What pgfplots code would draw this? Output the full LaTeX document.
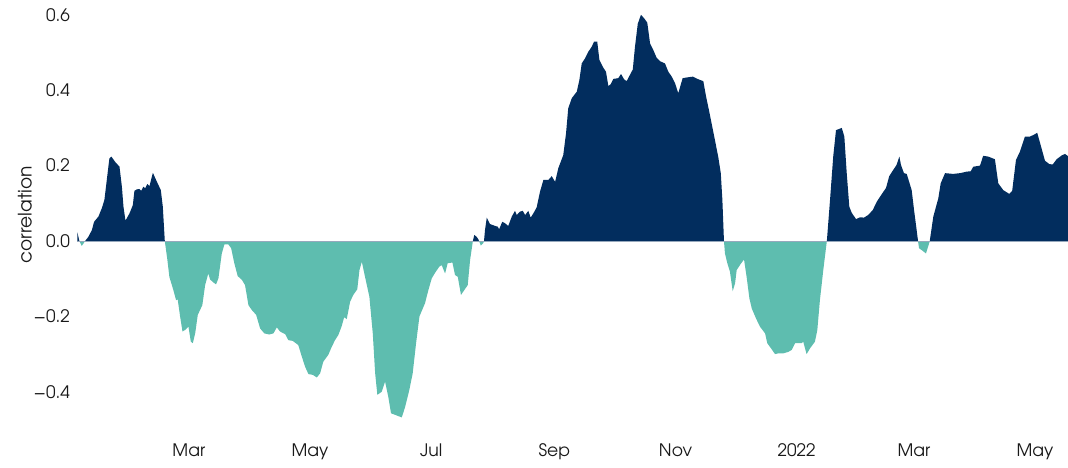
\documentclass[border=0pt]{standalone}
\usepackage{fontspec}
\setmainfont{TeX Gyre Adventor}
\usepackage{pgfplots}
\pgfplotsset{compat=1.18}
\usepackage{pgfplotstable}
\definecolor{posnavy}{RGB}{2,45,94}
\definecolor{negteal}{RGB}{94,189,175}
\definecolor{zeroln}{RGB}{150,168,188}
\definecolor{txt}{RGB}{25,25,25}

% x = days since 1 Jan 2021, y = rolling correlation
\pgfplotstableread{
d v
2.9 0.023
3.9 0.000
5.1 -0.013
6.8 0.000
8.4 0.011
10.2 0.029
11.3 0.051
13.5 0.065
15.2 0.087
16.5 0.109
17.7 0.162
19.0 0.219
20.0 0.224
21.9 0.210
24.1 0.197
25.3 0.144
26.1 0.091
27.1 0.054
29.1 0.073
30.8 0.095
31.6 0.133
32.8 0.137
34.1 0.138
35.0 0.133
36.1 0.144
37.0 0.140
38.1 0.151
39.2 0.146
40.9 0.181
42.5 0.162
44.9 0.135
45.9 0.091
46.9 0.000
48.2 -0.050
49.2 -0.095
51.2 -0.130
52.6 -0.157
53.4 -0.155
54.6 -0.200
55.8 -0.240
57.1 -0.236
58.8 -0.227
60.0 -0.267
61.0 -0.271
62.2 -0.245
63.5 -0.196
65.8 -0.170
67.2 -0.117
68.8 -0.086
69.7 -0.102
71.4 -0.110
72.7 -0.115
73.9 -0.099
75.6 -0.033
76.9 -0.009
78.9 -0.009
80.3 -0.019
81.9 -0.059
83.6 -0.093
85.7 -0.103
87.3 -0.117
89.0 -0.170
90.7 -0.183
92.9 -0.196
94.9 -0.232
97.0 -0.245
99.4 -0.248
101.6 -0.245
103.3 -0.229
104.9 -0.240
107.5 -0.247
109.1 -0.263
111.3 -0.265
114.1 -0.276
115.9 -0.307
117.5 -0.333
119.2 -0.353
121.4 -0.355
123.4 -0.362
125.1 -0.351
126.7 -0.320
129.2 -0.302
131.0 -0.280
132.6 -0.263
134.3 -0.249
136.0 -0.225
137.2 -0.202
138.5 -0.207
140.2 -0.161
141.8 -0.143
143.8 -0.128
144.9 -0.077
146.1 -0.055
147.7 -0.095
149.9 -0.148
151.6 -0.245
152.8 -0.351
153.9 -0.408
156.1 -0.400
157.8 -0.373
159.4 -0.413
160.8 -0.457
163.3 -0.462
166.2 -0.468
167.9 -0.440
170.0 -0.395
171.7 -0.351
173.4 -0.271
175.1 -0.200
177.9 -0.165
179.6 -0.130
181.3 -0.099
183.0 -0.084
185.1 -0.068
186.3 -0.064
188.0 -0.086
189.3 -0.059
191.7 -0.057
193.0 -0.090
194.4 -0.095
196.0 -0.143
197.7 -0.130
199.4 -0.117
200.6 -0.050
201.7 -0.011
202.0 0.000
202.7 0.016
203.9 0.011
204.7 0.005
205.1 0.000
206.0 -0.012
207.3 -0.005
207.6 0.000
208.1 0.029
209.0 0.062
210.6 0.045
213.2 0.040
214.5 0.038
215.2 0.031
216.8 0.051
218.2 0.047
219.8 0.040
221.6 0.065
223.2 0.080
224.1 0.069
225.7 0.078
227.1 0.080
228.3 0.069
229.9 0.080
231.1 0.062
232.4 0.073
234.1 0.089
235.8 0.131
237.5 0.162
240.0 0.162
241.7 0.172
243.4 0.157
245.0 0.193
247.5 0.228
248.9 0.286
250.0 0.352
251.8 0.379
254.3 0.396
255.6 0.427
256.8 0.471
258.5 0.485
260.1 0.502
261.8 0.515
263.0 0.529
264.6 0.529
265.7 0.480
267.4 0.462
269.0 0.449
270.2 0.411
271.4 0.416
272.7 0.430
275.2 0.432
276.6 0.443
278.1 0.429
279.4 0.424
280.8 0.438
282.5 0.455
283.6 0.515
285.0 0.576
286.6 0.600
288.2 0.591
289.8 0.579
291.2 0.524
292.8 0.507
294.5 0.486
296.2 0.477
298.7 0.471
300.4 0.449
302.1 0.436
303.8 0.418
305.4 0.392
307.6 0.432
309.9 0.434
312.7 0.436
315.5 0.429
318.0 0.424
319.4 0.383
321.0 0.343
323.0 0.290
325.5 0.224
326.8 0.180
327.6 0.109
328.4 0.000
328.9 -0.033
330.1 -0.059
331.4 -0.081
332.8 -0.133
334.0 -0.112
334.8 -0.077
336.8 -0.061
338.5 -0.049
339.8 -0.095
341.2 -0.152
342.4 -0.179
344.5 -0.205
346.5 -0.227
349.1 -0.245
350.2 -0.271
352.4 -0.287
354.1 -0.300
355.7 -0.298
358.3 -0.298
360.8 -0.294
362.5 -0.289
364.2 -0.271
367.5 -0.271
368.3 -0.267
370.0 -0.300
371.7 -0.285
374.2 -0.267
375.4 -0.236
376.7 -0.157
378.4 -0.077
380.1 -0.004
380.2 0.000
381.8 0.109
383.4 0.224
384.8 0.294
387.7 0.300
389.0 0.277
390.2 0.180
391.5 0.091
392.7 0.075
394.9 0.058
396.9 0.063
398.9 0.062
401.0 0.069
403.3 0.082
405.3 0.104
407.8 0.124
410.0 0.141
411.6 0.172
413.3 0.186
415.3 0.202
416.7 0.224
417.5 0.202
419.0 0.180
420.4 0.178
422.9 0.135
424.1 0.082
425.4 0.029
426.1 0.000
426.6 -0.019
428.4 -0.026
430.1 -0.033
431.8 -0.004
432.0 0.000
433.8 0.065
436.3 0.113
437.5 0.153
439.7 0.180
443.8 0.178
447.2 0.180
450.6 0.184
452.6 0.185
453.9 0.197
457.3 0.200
458.9 0.226
461.4 0.224
464.8 0.217
466.5 0.153
469.0 0.135
472.0 0.125
473.5 0.133
475.4 0.215
477.4 0.237
479.9 0.277
482.4 0.277
484.1 0.281
486.1 0.287
487.8 0.255
490.0 0.213
492.2 0.204
493.9 0.203
495.9 0.217
498.4 0.227
500.1 0.231
501.6 0.225
}\corrdata

\begin{document}
\begin{tikzpicture}
\begin{axis}[
  scale only axis,
  width=495.5pt, height=214.75pt,
  xmin=2.7, xmax=501.6,
  ymin=-0.5, ymax=0.6393,
  axis line style={draw=none},
  major tick length=0pt,
  clip=false,
  font=\fontsize{8.6}{10}\selectfont\color{txt},
  xtick={59,120,181,243,304,365,424,485},
  xticklabels={Mar,May,Jul,Sep,Nov,2022,Mar,May},
  x tick label style={yshift=-3.4pt},
  ytick={-0.4,-0.2,0,0.2,0.4,0.6},
  yticklabels={−0.4,−0.2,0.0,0.2,0.4,0.6},
  ylabel={correlation},
  ylabel style={at={(axis description cs:0,0.5)}, yshift=26pt, anchor=center,
                font=\fontsize{9.3}{11}\selectfont\color{txt}},
]
% positive part in navy, negative part in teal
\addplot[fill=posnavy, draw=none] table[x=d, y expr={max(\thisrow{v},0)}] {\corrdata} \closedcycle;
\addplot[fill=negteal, draw=none] table[x=d, y expr={min(\thisrow{v},0)}] {\corrdata} \closedcycle;
\addplot[zeroln, line width=0.5pt] coordinates {(2.9,0) (501.6,0)};
\end{axis}
\pgfresetboundingbox
\useasboundingbox (-38.5pt,-18.75pt) rectangle (495.5pt,214.75pt);
\end{tikzpicture}
\end{document}
